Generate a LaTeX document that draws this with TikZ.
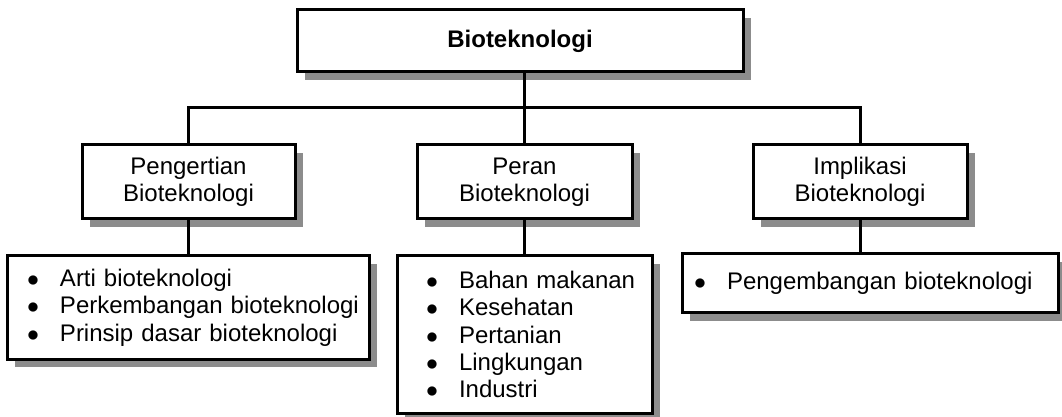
\documentclass[tikz,border=0pt]{standalone}
\usepackage{fontspec}
\setmainfont{Liberation Sans}
\usetikzlibrary{shadows}
\definecolor{shadowgray}{gray}{0.55}
% bullet with left indent
\newcommand\bul[1]{\hspace*{#1}\makebox[6pt]{$\bullet$}\hspace{10.5pt}}

\begin{document}
\begin{tikzpicture}[x=0.5pt, y=-0.5pt, line width=1.5pt,
  every node/.style={font=\fontsize{12}{13.3}\selectfont},
  box/.style={draw, fill=white, inner sep=0pt, align=center,
    drop shadow={shadow xshift=4pt, shadow yshift=-4pt, fill=shadowgray, opacity=1}},
  listbox/.style={box, align=left, text width=#1, font=\fontsize{12}{13.65}\selectfont}]
  \useasboundingbox (0,0) rectangle (1062,417);
  % Top box
  \node[box, minimum width=223pt, minimum height=31pt, font=\fontsize{12}{13.3}\selectfont\bfseries]
    (top) at (520,41) {Bioteknologi};
  % Second level
  \node[box, minimum width=106.5pt, minimum height=37pt] (peng) at (188.5,182) {Pengertian\\Bioteknologi};
  \node[box, minimum width=107.5pt, minimum height=37pt] (peran) at (524.5,182) {Peran\\Bioteknologi};
  \node[box, minimum width=107pt, minimum height=37pt] (impl) at (860,182) {Implikasi\\Bioteknologi};
  % Lists
  \node[listbox=181pt, minimum height=51.5pt] (arti) at (188,307.5)
    {\bul{10pt}Arti bioteknologi\\
     \bul{10pt}Perkembangan bioteknologi\\
     \bul{10pt}Prinsip dasar bioteknologi};
  \node[listbox=127.5pt, minimum height=78.5pt] (manfaat) at (524.5,334.5)
    {\bul{14.5pt}Bahan makanan\\
     \bul{14.5pt}Kesehatan\\
     \bul{14.5pt}Pertanian\\
     \bul{14.5pt}Lingkungan\\
     \bul{14.5pt}Industri};
  \node[listbox=188pt, minimum height=29.5pt] (kembang) at (870,283.5)
    {\bul{6pt}Pengembangan bioteknologi};
  % Connectors
  \coordinate (hub) at (524.5,108);
  \draw (top.south -| hub) -- (hub) -- (peran.north);
  \draw (peng.north) |- (hub) -| (impl.north);
  \draw (peng.south) -- (peng.south |- arti.north);
  \draw (peran.south) -- (peran.south |- manfaat.north);
  \draw (impl.south) -- (impl.south |- kembang.north);
\end{tikzpicture}
\end{document}
